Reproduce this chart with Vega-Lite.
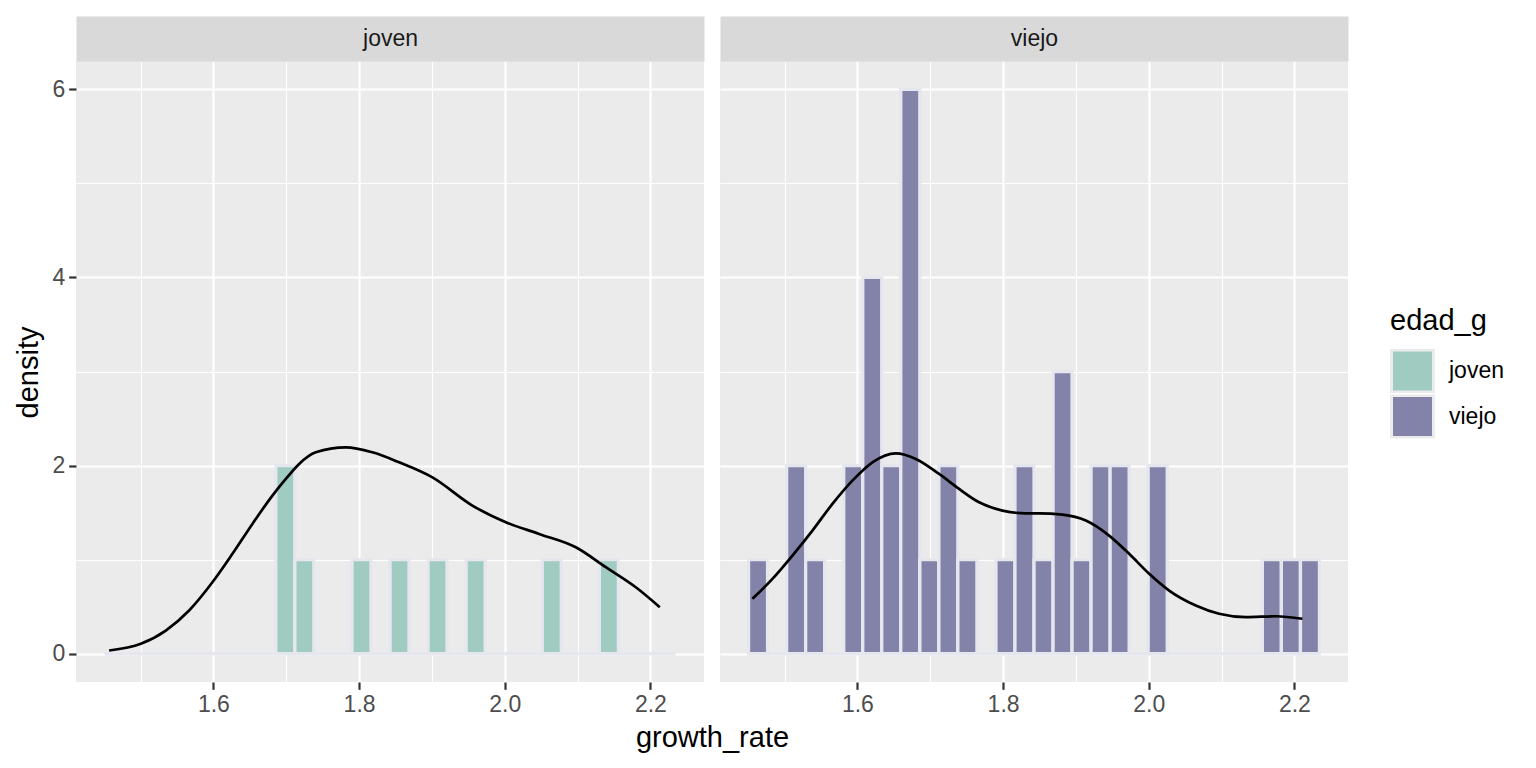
{
  "$schema": "https://vega.github.io/schema/vega-lite/v6.json",
  "padding": {"left": 14, "top": 27, "right": 10, "bottom": 10},
  "background": "white",
  "bounds": "flush",
  "spacing": 16,
  "config": {
    "font": "Liberation Sans",
    "view": {"fill": "#EBEBEB", "stroke": null},
    "axis": {
      "domain": false,
      "gridColor": "white",
      "labelFont": "Liberation Sans",
      "labelFontSize": 23,
      "labelColor": "#4D4D4D",
      "tickColor": "#333333",
      "tickWidth": 2.2,
      "tickSize": 7.3,
      "labelPadding": 4,
      "labelFlush": false,
      "labelOverlap": false,
      "titleFont": "Liberation Sans",
      "titleFontSize": 29,
      "titleFontWeight": "normal",
      "titleColor": "black"
    },
    "legend": {
      "titleFont": "Liberation Sans",
      "titleFontSize": 29,
      "titleFontWeight": "normal",
      "titleColor": "black",
      "labelFont": "Liberation Sans",
      "labelFontSize": 23,
      "labelColor": "black",
      "symbolType": "square",
      "symbolSize": 1764,
      "symbolStrokeColor": "#EBEBEB",
      "symbolStrokeWidth": 3,
      "symbolOpacity": 1,
      "rowPadding": 1.5,
      "clipHeight": 44,
      "titlePadding": 13,
      "labelOffset": 14
    }
  },
  "datasets": {
    "bins": [
      {"g": "joven", "b0": 1.4505, "b1": 1.4766, "n": 0},
      {"g": "joven", "b0": 1.4766, "b1": 1.5028, "n": 0},
      {"g": "joven", "b0": 1.5028, "b1": 1.5289, "n": 0},
      {"g": "joven", "b0": 1.5289, "b1": 1.555, "n": 0},
      {"g": "joven", "b0": 1.555, "b1": 1.5812, "n": 0},
      {"g": "joven", "b0": 1.5812, "b1": 1.6073, "n": 0},
      {"g": "joven", "b0": 1.6073, "b1": 1.6334, "n": 0},
      {"g": "joven", "b0": 1.6334, "b1": 1.6595, "n": 0},
      {"g": "joven", "b0": 1.6595, "b1": 1.6857, "n": 0},
      {"g": "joven", "b0": 1.6857, "b1": 1.7118, "n": 2},
      {"g": "joven", "b0": 1.7118, "b1": 1.7379, "n": 1},
      {"g": "joven", "b0": 1.7379, "b1": 1.7641, "n": 0},
      {"g": "joven", "b0": 1.7641, "b1": 1.7902, "n": 0},
      {"g": "joven", "b0": 1.7902, "b1": 1.8163, "n": 1},
      {"g": "joven", "b0": 1.8163, "b1": 1.8425, "n": 0},
      {"g": "joven", "b0": 1.8425, "b1": 1.8686, "n": 1},
      {"g": "joven", "b0": 1.8686, "b1": 1.8947, "n": 0},
      {"g": "joven", "b0": 1.8947, "b1": 1.9208, "n": 1},
      {"g": "joven", "b0": 1.9208, "b1": 1.947, "n": 0},
      {"g": "joven", "b0": 1.947, "b1": 1.9731, "n": 1},
      {"g": "joven", "b0": 1.9731, "b1": 1.9992, "n": 0},
      {"g": "joven", "b0": 1.9992, "b1": 2.0254, "n": 0},
      {"g": "joven", "b0": 2.0254, "b1": 2.0515, "n": 0},
      {"g": "joven", "b0": 2.0515, "b1": 2.0776, "n": 1},
      {"g": "joven", "b0": 2.0776, "b1": 2.1038, "n": 0},
      {"g": "joven", "b0": 2.1038, "b1": 2.1299, "n": 0},
      {"g": "joven", "b0": 2.1299, "b1": 2.156, "n": 1},
      {"g": "joven", "b0": 2.156, "b1": 2.1821, "n": 0},
      {"g": "joven", "b0": 2.1821, "b1": 2.2083, "n": 0},
      {"g": "joven", "b0": 2.2083, "b1": 2.2344, "n": 0},
      {"g": "viejo", "b0": 1.4505, "b1": 1.4766, "n": 1},
      {"g": "viejo", "b0": 1.4766, "b1": 1.5028, "n": 0},
      {"g": "viejo", "b0": 1.5028, "b1": 1.5289, "n": 2},
      {"g": "viejo", "b0": 1.5289, "b1": 1.555, "n": 1},
      {"g": "viejo", "b0": 1.555, "b1": 1.5812, "n": 0},
      {"g": "viejo", "b0": 1.5812, "b1": 1.6073, "n": 2},
      {"g": "viejo", "b0": 1.6073, "b1": 1.6334, "n": 4},
      {"g": "viejo", "b0": 1.6334, "b1": 1.6595, "n": 2},
      {"g": "viejo", "b0": 1.6595, "b1": 1.6857, "n": 6},
      {"g": "viejo", "b0": 1.6857, "b1": 1.7118, "n": 1},
      {"g": "viejo", "b0": 1.7118, "b1": 1.7379, "n": 2},
      {"g": "viejo", "b0": 1.7379, "b1": 1.7641, "n": 1},
      {"g": "viejo", "b0": 1.7641, "b1": 1.7902, "n": 0},
      {"g": "viejo", "b0": 1.7902, "b1": 1.8163, "n": 1},
      {"g": "viejo", "b0": 1.8163, "b1": 1.8425, "n": 2},
      {"g": "viejo", "b0": 1.8425, "b1": 1.8686, "n": 1},
      {"g": "viejo", "b0": 1.8686, "b1": 1.8947, "n": 3},
      {"g": "viejo", "b0": 1.8947, "b1": 1.9208, "n": 1},
      {"g": "viejo", "b0": 1.9208, "b1": 1.947, "n": 2},
      {"g": "viejo", "b0": 1.947, "b1": 1.9731, "n": 2},
      {"g": "viejo", "b0": 1.9731, "b1": 1.9992, "n": 0},
      {"g": "viejo", "b0": 1.9992, "b1": 2.0254, "n": 2},
      {"g": "viejo", "b0": 2.0254, "b1": 2.0515, "n": 0},
      {"g": "viejo", "b0": 2.0515, "b1": 2.0776, "n": 0},
      {"g": "viejo", "b0": 2.0776, "b1": 2.1038, "n": 0},
      {"g": "viejo", "b0": 2.1038, "b1": 2.1299, "n": 0},
      {"g": "viejo", "b0": 2.1299, "b1": 2.156, "n": 0},
      {"g": "viejo", "b0": 2.156, "b1": 2.1821, "n": 1},
      {"g": "viejo", "b0": 2.1821, "b1": 2.2083, "n": 1},
      {"g": "viejo", "b0": 2.2083, "b1": 2.2344, "n": 1}
    ],
    "dens": [
      {"g": "joven", "x": 1.4568, "y": 0.035},
      {"g": "joven", "x": 1.5003, "y": 0.106},
      {"g": "joven", "x": 1.5346, "y": 0.247},
      {"g": "joven", "x": 1.5666, "y": 0.46},
      {"g": "joven", "x": 1.5986, "y": 0.76},
      {"g": "joven", "x": 1.6261, "y": 1.062},
      {"g": "joven", "x": 1.6535, "y": 1.38},
      {"g": "joven", "x": 1.681, "y": 1.681},
      {"g": "joven", "x": 1.6994, "y": 1.858},
      {"g": "joven", "x": 1.7177, "y": 2.018},
      {"g": "joven", "x": 1.7406, "y": 2.141},
      {"g": "joven", "x": 1.7818, "y": 2.194},
      {"g": "joven", "x": 1.8183, "y": 2.141},
      {"g": "joven", "x": 1.855, "y": 2.035},
      {"g": "joven", "x": 1.9007, "y": 1.875},
      {"g": "joven", "x": 1.9556, "y": 1.575},
      {"g": "joven", "x": 2.0015, "y": 1.398},
      {"g": "joven", "x": 2.0472, "y": 1.274},
      {"g": "joven", "x": 2.0976, "y": 1.132},
      {"g": "joven", "x": 2.1388, "y": 0.92},
      {"g": "joven", "x": 2.18, "y": 0.707},
      {"g": "joven", "x": 2.2129, "y": 0.495},
      {"g": "viejo", "x": 1.4558, "y": 0.584},
      {"g": "viejo", "x": 1.4833, "y": 0.796},
      {"g": "viejo", "x": 1.5108, "y": 1.044},
      {"g": "viejo", "x": 1.5382, "y": 1.309},
      {"g": "viejo", "x": 1.5657, "y": 1.593},
      {"g": "viejo", "x": 1.5931, "y": 1.84},
      {"g": "viejo", "x": 1.6206, "y": 2.035},
      {"g": "viejo", "x": 1.6527, "y": 2.13},
      {"g": "viejo", "x": 1.6802, "y": 2.071},
      {"g": "viejo", "x": 1.7122, "y": 1.911},
      {"g": "viejo", "x": 1.7396, "y": 1.752},
      {"g": "viejo", "x": 1.7671, "y": 1.61},
      {"g": "viejo", "x": 1.7991, "y": 1.522},
      {"g": "viejo", "x": 1.8312, "y": 1.493},
      {"g": "viejo", "x": 1.8495, "y": 1.493},
      {"g": "viejo", "x": 1.8815, "y": 1.479},
      {"g": "viejo", "x": 1.9136, "y": 1.416},
      {"g": "viejo", "x": 1.9456, "y": 1.256},
      {"g": "viejo", "x": 1.9731, "y": 1.062},
      {"g": "viejo", "x": 2.0006, "y": 0.85},
      {"g": "viejo", "x": 2.028, "y": 0.672},
      {"g": "viejo", "x": 2.0646, "y": 0.513},
      {"g": "viejo", "x": 2.0966, "y": 0.425},
      {"g": "viejo", "x": 2.1333, "y": 0.389},
      {"g": "viejo", "x": 2.1745, "y": 0.399},
      {"g": "viejo", "x": 2.211, "y": 0.372}
    ]
  },
  "hconcat": [
    {
      "width": 628,
      "height": 621,
      "layer": [
        {
          "data": {"name": "bins"},
          "transform": [{"filter": "datum.g === 'joven'"}],
          "mark": {"type": "bar", "stroke": "#E6E7EE", "strokeWidth": 3.3},
          "encoding": {
            "x": {
              "field": "b0", "type": "quantitative",
              "scale": {"domain": [1.4113, 2.2736], "nice": false, "zero": false},
              "axis": {
                "orient": "bottom",
                "values": [1.5, 1.6, 1.7, 1.8, 1.9, 2.0, 2.1, 2.2],
                "labelExpr": "round(datum.value*10)%2==0 ? format(datum.value,'.1f') : ''",
                "gridWidth": {"condition": {"test": "round(datum.value*10)%2==1", "value": 1.1}, "value": 2.2},
                "tickOpacity": {"condition": {"test": "round(datum.value*10)%2==1", "value": 0}, "value": 1},
                "title": "growth_rate",
                "titleX": 636,
                "titleY": 64,
                "titleBaseline": "alphabetic",
                "titleAlign": "center"
              }
            },
            "x2": {"field": "b1"},
            "y": {
              "field": "n", "type": "quantitative", "stack": null,
              "scale": {"domain": [-0.3, 6.3], "nice": false, "zero": false},
              "axis": {
                "values": [0, 1, 2, 3, 4, 5, 6],
                "labelExpr": "datum.value % 2 == 0 ? format(datum.value, 'd') : ''",
                "gridWidth": {"condition": {"test": "datum.value % 2 == 1", "value": 1.1}, "value": 2.2},
                "tickOpacity": {"condition": {"test": "datum.value % 2 == 1", "value": 0}, "value": 1},
                "title": "density",
                "titleX": -39,
                "titleY": 311,
                "titleBaseline": "alphabetic",
                "titleAlign": "center"
              }
            },
            "y2": {"datum": 0},
            "color": {
              "field": "g", "type": "nominal",
              "scale": {"domain": ["joven", "viejo"], "range": ["#9FCBC0", "#8383A9"]},
              "legend": {"title": "edad_g", "orient": "none", "legendX": 1314, "legendY": 246}
            }
          }
        },
        {
          "data": {"name": "dens"},
          "transform": [{"filter": "datum.g === 'joven'"}],
          "mark": {"type": "line", "color": "black", "strokeWidth": 2.7, "interpolate": "monotone"},
          "encoding": {
            "x": {
              "field": "x", "type": "quantitative",
              "axis": {
                "orient": "top", "grid": false, "ticks": false, "labels": false,
                "domain": true, "domainColor": "#D9D9D9", "domainWidth": 45, "domainCap": "butt",
                "offset": 22.5,
                "title": "joven", "titleFontSize": 23, "titleColor": "#1A1A1A",
                "titleBaseline": "middle", "titleX": 314, "titleY": 0, "titleAlign": "center"
              }
            },
            "y": {"field": "y", "type": "quantitative"}
          }
        }
      ],
      "resolve": {"axis": {"x": "independent"}}
    },
    {
      "width": 628,
      "height": 621,
      "layer": [
        {
          "data": {"name": "bins"},
          "transform": [{"filter": "datum.g === 'viejo'"}],
          "mark": {"type": "bar", "stroke": "#E6E7EE", "strokeWidth": 3.3},
          "encoding": {
            "x": {
              "field": "b0", "type": "quantitative",
              "scale": {"domain": [1.4113, 2.2736], "nice": false, "zero": false},
              "axis": {
                "orient": "bottom",
                "values": [1.5, 1.6, 1.7, 1.8, 1.9, 2.0, 2.1, 2.2],
                "labelExpr": "round(datum.value*10)%2==0 ? format(datum.value,'.1f') : ''",
                "gridWidth": {"condition": {"test": "round(datum.value*10)%2==1", "value": 1.1}, "value": 2.2},
                "tickOpacity": {"condition": {"test": "round(datum.value*10)%2==1", "value": 0}, "value": 1},
                "title": null
              }
            },
            "x2": {"field": "b1"},
            "y": {
              "field": "n", "type": "quantitative", "stack": null,
              "scale": {"domain": [-0.3, 6.3], "nice": false, "zero": false},
              "axis": {
                "values": [0, 1, 2, 3, 4, 5, 6],
                "labels": false,
                "ticks": false,
                "gridWidth": {"condition": {"test": "datum.value % 2 == 1", "value": 1.1}, "value": 2.2},
                "title": null
              }
            },
            "y2": {"datum": 0},
            "color": {
              "field": "g", "type": "nominal",
              "scale": {"domain": ["joven", "viejo"], "range": ["#9FCBC0", "#8383A9"]},
              "legend": {"title": "edad_g", "orient": "none", "legendX": 1314, "legendY": 246}
            }
          }
        },
        {
          "data": {"name": "dens"},
          "transform": [{"filter": "datum.g === 'viejo'"}],
          "mark": {"type": "line", "color": "black", "strokeWidth": 2.7, "interpolate": "monotone"},
          "encoding": {
            "x": {
              "field": "x", "type": "quantitative",
              "axis": {
                "orient": "top", "grid": false, "ticks": false, "labels": false,
                "domain": true, "domainColor": "#D9D9D9", "domainWidth": 45, "domainCap": "butt",
                "offset": 22.5,
                "title": "viejo", "titleFontSize": 23, "titleColor": "#1A1A1A",
                "titleBaseline": "middle", "titleX": 314, "titleY": 0, "titleAlign": "center"
              }
            },
            "y": {"field": "y", "type": "quantitative"}
          }
        }
      ],
      "resolve": {"axis": {"x": "independent"}}
    }
  ],
  "resolve": {"scale": {"color": "shared"}, "legend": {"color": "shared"}}
}
